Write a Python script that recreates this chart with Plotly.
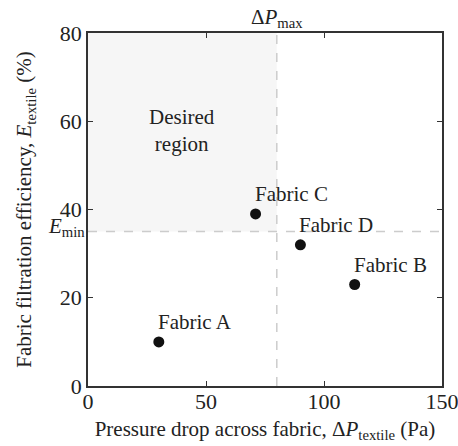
import plotly.graph_objects as go

fabrics = ["Fabric A", "Fabric B", "Fabric C", "Fabric D"]
pressure_drop = [30, 113, 71, 90]
efficiency = [10, 23, 39, 32]
dp_max = 80
e_min = 35
x_ticks = [0, 50, 100, 150]
y_ticks = [0, 20, 40, 60, 80]

FONT = "Liberation Serif"
TXT = "#222"
fig = go.Figure()

fig.add_shape(type="rect", x0=0, x1=dp_max, y0=e_min, y1=80, xref="x", yref="y",
              fillcolor="#f6f6f6", line=dict(width=0), layer="below")
fig.add_shape(type="line", x0=dp_max, x1=dp_max, y0=0, y1=80, xref="x", yref="y",
              line=dict(color="#cccccc", width=1.5, dash="dash"), layer="below")
fig.add_shape(type="line", x0=0, x1=150, y0=e_min, y1=e_min, xref="x", yref="y",
              line=dict(color="#cccccc", width=1.5, dash="dash"), layer="below")

fig.add_trace(go.Scatter(x=pressure_drop, y=efficiency, mode="markers",
                         marker=dict(color="#111", size=11), cliponaxis=False,
                         showlegend=False))

for name, xv, yv in zip(fabrics, pressure_drop, efficiency):
    fig.add_annotation(x=xv, y=yv, xref="x", yref="y", text=name, showarrow=False,
                       xanchor="left", yanchor="bottom", xshift=-3, yshift=6,
                       font=dict(family=FONT, size=21, color=TXT))

fig.add_annotation(x=40, y=58, xref="x", yref="y", text="Desired<br>region",
                   showarrow=False, font=dict(family=FONT, size=21, color=TXT))
fig.add_annotation(x=dp_max, y=1, xref="x", yref="paper", yanchor="bottom", yshift=0,
                   text="Δ<i>P</i><sub>max</sub>", showarrow=False,
                   font=dict(family=FONT, size=21, color=TXT))
fig.add_annotation(x=0, y=e_min, xref="paper", yref="y", xanchor="right", xshift=-1,
                   yshift=5, text="<i>E</i><sub>min</sub>", showarrow=False,
                   font=dict(family=FONT, size=21, color=TXT))

axis_common = dict(showgrid=False, zeroline=False, showline=True, linecolor="#333",
                   linewidth=1.5, mirror="ticks", ticks="inside", ticklen=5,
                   tickcolor="#333", ticklabeloverflow="allow", automargin=False,
                   tickfont=dict(family=FONT, size=22, color=TXT))

fig.update_xaxes(range=[0, 150], tickvals=x_ticks, ticklabelstandoff=-5, **axis_common,
                 title=dict(text="Pressure drop across fabric, Δ<i>P</i><sub>textile</sub> (Pa)",
                            font=dict(family=FONT, size=21, color=TXT), standoff=8))
fig.update_yaxes(range=[0, 80], tickvals=y_ticks, **axis_common,
                 title=dict(text="Fabric filtration efficiency, <i>E</i><sub>textile</sub> (%)",
                            font=dict(family=FONT, size=21, color=TXT), standoff=22))

fig.update_layout(width=458, height=446, margin=dict(l=88, r=16, t=33, b=60),
                  plot_bgcolor="white", paper_bgcolor="white")
fig.write_html("out.html")
